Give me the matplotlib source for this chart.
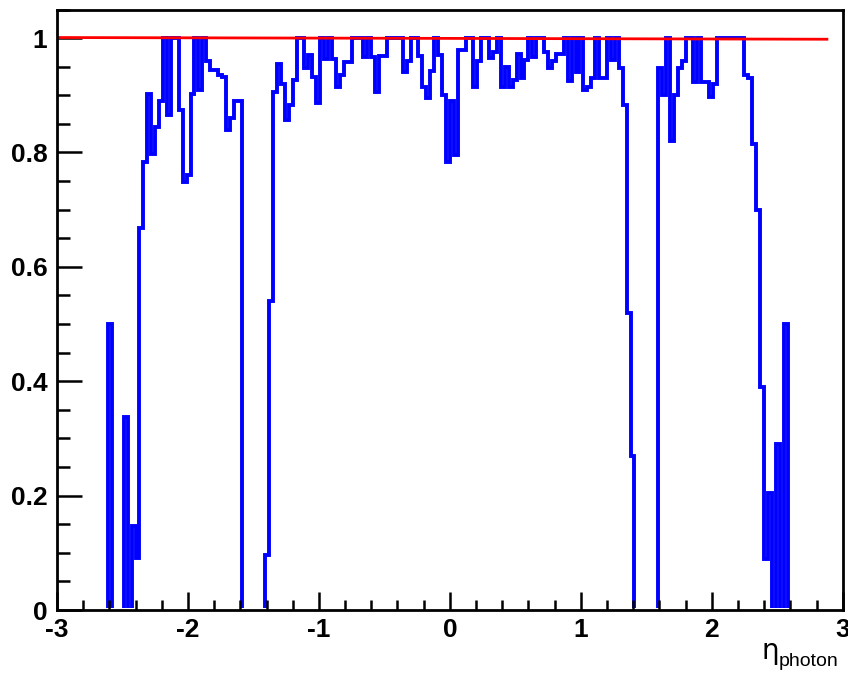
import numpy as np
import matplotlib
matplotlib.use('Agg')
from matplotlib import pyplot as plt
from matplotlib.ticker import MultipleLocator
from matplotlib.patches import Rectangle

# photon efficiency vs eta, 200 bins over [-3, 3]
eta_lo = -3.0
eta_hi = 3.0
n_bins = 200

eff = (
  [0.0] * 13 +
  [0.5, 0.0, 0.0, 0.0, 0.338, 0.0, 0.147, 0.091,
   0.668, 0.783, 0.903, 0.797, 0.845, 0.89, 1.0, 0.865, 1.0, 1.0,
   0.874, 0.749, 0.76, 0.903, 1.0, 0.91, 1.0, 0.96, 0.945, 0.945,
   0.935, 0.932, 0.84, 0.86, 0.89, 0.89] +
  [0.0] * 6 +
  [0.096, 0.54, 0.906, 0.955, 0.92, 0.857, 0.883, 0.927, 1.0, 1.0,
   0.947, 0.97, 0.932, 0.886, 1.0, 0.963, 1.0, 0.963, 0.915, 0.935,
   0.959, 0.959, 1.0, 1.0, 1.0, 0.967, 1.0, 0.967, 0.906, 0.968,
   0.968, 1.0, 1.0, 1.0, 1.0, 0.941, 0.96, 1.0, 1.0, 0.968,
   0.915, 0.896, 0.943, 1.0, 0.97, 0.9, 0.784, 0.89, 0.795, 0.98,
   0.98, 1.0, 1.0, 0.915, 0.96, 1.0, 1.0, 0.965, 0.975, 1.0,
   0.915, 0.95, 0.915, 0.927, 0.973, 0.93, 0.962, 1.0, 0.967, 1.0,
   1.0, 0.976, 0.948, 0.96, 0.973, 0.973, 1.0, 0.925, 1.0, 0.94,
   1.0, 0.91, 0.915, 0.93, 1.0, 0.93, 0.93, 1.0, 0.962, 1.0,
   0.948, 0.883, 0.52, 0.27] +
  [0.0] * 6 +
  [0.947, 0.9, 1.0, 0.82, 0.9, 0.947, 0.96, 1.0, 1.0, 0.924,
   1.0, 0.924, 0.924, 0.897, 0.92] +
  [1.0] * 7 +
  [0.935, 0.93, 0.815, 0.70, 0.39, 0.09, 0.204, 0.0, 0.29, 0.0, 0.5] +
  [0.0] * 14
)
assert len(eff) == n_bins

# flat fit drawn on top
fit_x = [-3.0, 2.89]
fit_y = [1.001, 0.998]

edges = np.linspace(eta_lo, eta_hi, n_bins + 1)

fig = plt.figure(figsize=(8.48, 6.74), dpi=100)
ax = fig.add_axes([57 / 848, 1 - 610 / 674, 785.7 / 848, 600.5 / 674])

h = ax.stairs(eff, edges, color='#0000ff', linewidth=2.8, joinstyle='miter', capstyle='butt')
# empty bins sit on the axis line, keep them hidden under the frame
h.set_clip_path(Rectangle((eta_lo, 0.0028), eta_hi - eta_lo, 1.2, transform=ax.transData))
ax.plot(fit_x, fit_y, color='#ff0000', linewidth=2.0, solid_capstyle='butt')

ax.set_xlim(eta_lo, eta_hi)
ax.set_ylim(0, 1.05)

ax.xaxis.set_major_locator(MultipleLocator(1))
ax.xaxis.set_minor_locator(MultipleLocator(0.2))
ax.yaxis.set_major_locator(MultipleLocator(0.2))
ax.yaxis.set_minor_locator(MultipleLocator(0.05))

tick_font = {'family': ['Liberation Sans Narrow', 'Liberation Sans'], 'weight': 'bold', 'size': 19}
ax.tick_params(which='both', direction='in', top=False, right=False, width=1.8, color='black')
ax.tick_params(axis='x', which='major', length=13, pad=6)
ax.tick_params(axis='x', which='minor', length=7)
ax.tick_params(axis='y', which='major', length=18, pad=7)
ax.tick_params(axis='y', which='minor', length=9)

ax.set_xticks([-3, -2, -1, 0, 1, 2, 3])
ax.set_xticklabels(['-3', '-2', '-1', '0', '1', '2', '3'], fontdict=tick_font)
ax.set_yticks([0, 0.2, 0.4, 0.6, 0.8, 1.0])
ax.set_yticklabels(['0', '0.2', '0.4', '0.6', '0.8', '1'], fontdict=tick_font)

for s in ax.spines.values():
  s.set_linewidth(2.0)
  s.set_zorder(5)

fig.text(762 / 848, 1 - 651 / 674, '\u03b7', fontsize=20, ha='left', va='center',
         family=['DejaVu Sans'])
fig.text(779 / 848, 1 - 661 / 674, 'photon', fontsize=14, ha='left', va='center',
         family=['Liberation Sans Narrow', 'Liberation Sans'])

fig.savefig('out.png', dpi=100)
